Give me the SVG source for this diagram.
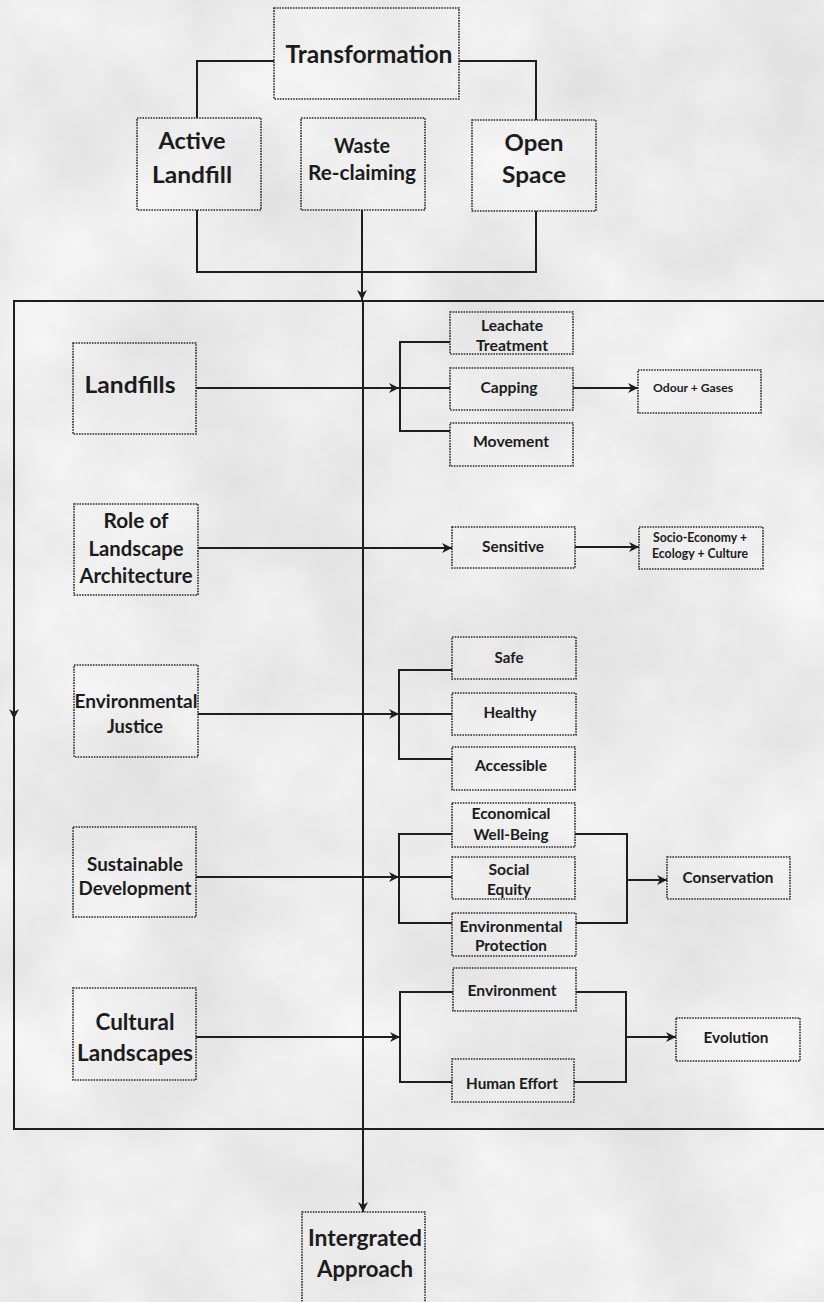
<svg xmlns="http://www.w3.org/2000/svg" width="824" height="1302" viewBox="0 0 824 1302">
<style>
.box{fill:#ffffff;fill-opacity:0.12;stroke:#2b2b2b;stroke-width:1.6;stroke-dasharray:1.6 1.1}
.t{font-family:Lato,"Liberation Sans",sans-serif;font-weight:700;fill:#1c1c1c;text-anchor:middle}
.c{fill:none;stroke:#1e1e1e;stroke-width:2}
</style>
<defs>
<filter id="tex" x="0" y="0" width="100%" height="100%" color-interpolation-filters="sRGB">
<feTurbulence type="fractalNoise" baseFrequency="0.007" numOctaves="5" seed="7"/>
<feColorMatrix type="matrix" values="0.14 0 0 0 0.85  0.14 0 0 0 0.85  0.14 0 0 0 0.85  0 0 0 0 1"/>
</filter>
<marker id="arr" viewBox="0 0 10 10" refX="10" refY="5" markerWidth="10" markerHeight="10" markerUnits="userSpaceOnUse" orient="auto">
<path d="M0,0 L10,5 L0,10 L3,5 Z" fill="#1e1e1e"/>
</marker>
</defs>
<rect x="0" y="0" width="824" height="1302" fill="#ebebeb"/>
<rect x="0" y="0" width="824" height="1302" filter="url(#tex)"/>

<g id="connectors">
<path class="c" d="M274,61 H197 V118"/>
<path class="c" d="M459,61 H536 V120"/>
<path class="c" d="M197,210 V272 H536 V211"/>
<path class="c" d="M362,210 V300" marker-end="url(#arr)"/>
<path class="c" d="M830,301 H14 V1129 H830"/>
<path class="c" d="M14,301 V719" marker-end="url(#arr)"/>
<path class="c" d="M363,301 V1212" marker-end="url(#arr)"/>
<path class="c" d="M196,388 H399" marker-end="url(#arr)"/>
<path class="c" d="M450,342 H400 V431 H450 M400,388 H450"/>
<path class="c" d="M573,388 H638" marker-end="url(#arr)"/>
<path class="c" d="M198,548 H452" marker-end="url(#arr)"/>
<path class="c" d="M575,547 H639" marker-end="url(#arr)"/>
<path class="c" d="M198,714 H399" marker-end="url(#arr)"/>
<path class="c" d="M452,670 H399 V759 H452 M399,714 H452"/>
<path class="c" d="M196,877 H399" marker-end="url(#arr)"/>
<path class="c" d="M452,834 H399 V923 H452 M399,877 H452"/>
<path class="c" d="M575,834 H627 V923 H576"/>
<path class="c" d="M627,880 H667" marker-end="url(#arr)"/>
<path class="c" d="M196,1037 H400" marker-end="url(#arr)"/>
<path class="c" d="M453,992 H400 V1082 H452"/>
<path class="c" d="M576,992 H626 V1082 H574"/>
<path class="c" d="M626,1037 H676" marker-end="url(#arr)"/>
</g>

<g id="transformation"><rect class="box" x="274" y="8" width="185" height="91"/>
<text class="t" x="369" y="63" font-size="25" textLength="167" lengthAdjust="spacingAndGlyphs">Transformation</text></g>

<g id="active-landfill"><rect class="box" x="137" y="118" width="124" height="92"/>
<text class="t" x="192" y="149" font-size="22" textLength="67" lengthAdjust="spacingAndGlyphs">Active</text>
<text class="t" x="192" y="183" font-size="22" textLength="80" lengthAdjust="spacingAndGlyphs">Landfill</text></g>

<g id="waste-reclaiming"><rect class="box" x="301" y="118" width="124" height="92"/>
<text class="t" x="362" y="153" font-size="20" textLength="56" lengthAdjust="spacingAndGlyphs">Waste</text>
<text class="t" x="362" y="180" font-size="20" textLength="108" lengthAdjust="spacingAndGlyphs">Re-claiming</text></g>

<g id="open-space"><rect class="box" x="472" y="120" width="124" height="91"/>
<text class="t" x="534" y="151" font-size="23" textLength="59" lengthAdjust="spacingAndGlyphs">Open</text>
<text class="t" x="534" y="183" font-size="23" textLength="64" lengthAdjust="spacingAndGlyphs">Space</text></g>

<g id="landfills"><rect class="box" x="73" y="343" width="123" height="91"/>
<text class="t" x="130" y="393" font-size="23" textLength="91" lengthAdjust="spacingAndGlyphs">Landfills</text></g>

<g id="leachate-treatment"><rect class="box" x="450" y="312" width="123" height="42"/>
<text class="t" x="512" y="331" font-size="15" textLength="62" lengthAdjust="spacingAndGlyphs">Leachate</text>
<text class="t" x="512" y="351" font-size="15" textLength="72" lengthAdjust="spacingAndGlyphs">Treatment</text></g>

<g id="capping"><rect class="box" x="450" y="368" width="123" height="42"/>
<text class="t" x="509" y="393" font-size="15" textLength="57" lengthAdjust="spacingAndGlyphs">Capping</text></g>

<g id="movement"><rect class="box" x="450" y="423" width="123" height="43"/>
<text class="t" x="511" y="447" font-size="15" textLength="76" lengthAdjust="spacingAndGlyphs">Movement</text></g>

<g id="odour-gases"><rect class="box" x="638" y="370" width="123" height="43"/>
<text class="t" x="693" y="392" font-size="12" textLength="80" lengthAdjust="spacingAndGlyphs">Odour + Gases</text></g>

<g id="role-of-landscape-architecture"><rect class="box" x="74" y="504" width="124" height="91"/>
<text class="t" x="136" y="528" font-size="20" textLength="65" lengthAdjust="spacingAndGlyphs">Role of</text>
<text class="t" x="136" y="556" font-size="20" textLength="95" lengthAdjust="spacingAndGlyphs">Landscape</text>
<text class="t" x="136" y="583" font-size="20" textLength="113" lengthAdjust="spacingAndGlyphs">Architecture</text></g>

<g id="sensitive"><rect class="box" x="452" y="527" width="123" height="41"/>
<text class="t" x="513" y="552" font-size="16" textLength="62" lengthAdjust="spacingAndGlyphs">Sensitive</text></g>

<g id="socio-economy"><rect class="box" x="639" y="527" width="124" height="42"/>
<text class="t" x="700" y="542" font-size="12.5" textLength="94" lengthAdjust="spacingAndGlyphs">Socio-Economy +</text>
<text class="t" x="700" y="558" font-size="12.5" textLength="96" lengthAdjust="spacingAndGlyphs">Ecology + Culture</text></g>

<g id="environmental-justice"><rect class="box" x="74" y="665" width="124" height="92"/>
<text class="t" x="136" y="708" font-size="19" textLength="123" lengthAdjust="spacingAndGlyphs">Environmental</text>
<text class="t" x="135" y="733" font-size="19" textLength="56" lengthAdjust="spacingAndGlyphs">Justice</text></g>

<g id="safe"><rect class="box" x="452" y="637" width="124" height="42"/>
<text class="t" x="509" y="663" font-size="16" textLength="29" lengthAdjust="spacingAndGlyphs">Safe</text></g>

<g id="healthy"><rect class="box" x="452" y="693" width="124" height="42"/>
<text class="t" x="510" y="718" font-size="16" textLength="53" lengthAdjust="spacingAndGlyphs">Healthy</text></g>

<g id="accessible"><rect class="box" x="452" y="747" width="123" height="43"/>
<text class="t" x="511" y="771" font-size="16" textLength="72" lengthAdjust="spacingAndGlyphs">Accessible</text></g>

<g id="sustainable-development"><rect class="box" x="73" y="827" width="123" height="90"/>
<text class="t" x="135" y="871" font-size="18" textLength="96" lengthAdjust="spacingAndGlyphs">Sustainable</text>
<text class="t" x="135" y="895" font-size="18" textLength="113" lengthAdjust="spacingAndGlyphs">Development</text></g>

<g id="economical-well-being"><rect class="box" x="452" y="803" width="123" height="44"/>
<text class="t" x="511" y="819" font-size="16" textLength="79" lengthAdjust="spacingAndGlyphs">Economical</text>
<text class="t" x="511" y="840" font-size="16" textLength="75" lengthAdjust="spacingAndGlyphs">Well-Being</text></g>

<g id="social-equity"><rect class="box" x="452" y="857" width="123" height="42"/>
<text class="t" x="509" y="875" font-size="16" textLength="41" lengthAdjust="spacingAndGlyphs">Social</text>
<text class="t" x="509" y="895" font-size="16" textLength="44" lengthAdjust="spacingAndGlyphs">Equity</text></g>

<g id="environmental-protection"><rect class="box" x="452" y="913" width="124" height="43"/>
<text class="t" x="511" y="932" font-size="16" textLength="103" lengthAdjust="spacingAndGlyphs">Environmental</text>
<text class="t" x="511" y="951" font-size="16" textLength="72" lengthAdjust="spacingAndGlyphs">Protection</text></g>

<g id="conservation"><rect class="box" x="667" y="857" width="123" height="42"/>
<text class="t" x="728" y="883" font-size="16" textLength="91" lengthAdjust="spacingAndGlyphs">Conservation</text></g>

<g id="cultural-landscapes"><rect class="box" x="73" y="988" width="123" height="92"/>
<text class="t" x="135" y="1030" font-size="22" textLength="79" lengthAdjust="spacingAndGlyphs">Cultural</text>
<text class="t" x="135" y="1061" font-size="22" textLength="116" lengthAdjust="spacingAndGlyphs">Landscapes</text></g>

<g id="environment"><rect class="box" x="453" y="968" width="123" height="43"/>
<text class="t" x="512" y="996" font-size="15" textLength="89" lengthAdjust="spacingAndGlyphs">Environment</text></g>

<g id="human-effort"><rect class="box" x="452" y="1059" width="122" height="43"/>
<text class="t" x="512" y="1089" font-size="16" textLength="92" lengthAdjust="spacingAndGlyphs">Human Effort</text></g>

<g id="evolution"><rect class="box" x="676" y="1018" width="124" height="43"/>
<text class="t" x="736" y="1043" font-size="15" textLength="65" lengthAdjust="spacingAndGlyphs">Evolution</text></g>

<g id="integrated-approach"><rect class="box" x="302" y="1212" width="123" height="100"/>
<text class="t" x="365" y="1246" font-size="22" textLength="114" lengthAdjust="spacingAndGlyphs">Intergrated</text>
<text class="t" x="365" y="1277" font-size="22" textLength="96" lengthAdjust="spacingAndGlyphs">Approach</text></g>
</svg>
